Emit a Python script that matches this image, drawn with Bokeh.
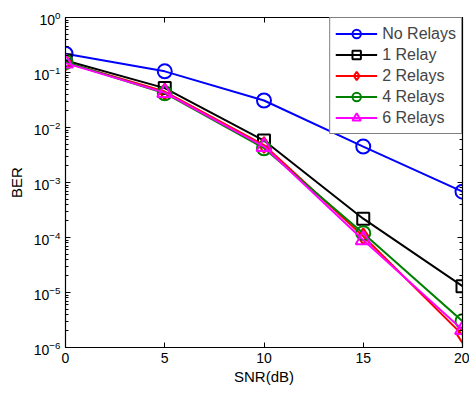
from bokeh.plotting import figure
from bokeh.models import LogAxis, LinearAxis, Legend, LegendItem, Range1d, FixedTicker, CustomJSTickFormatter
from bokeh.embed import file_html
from bokeh.resources import INLINE

snr = [0, 5, 10, 15, 20]
ber_none = [0.22, 0.105, 0.031, 0.0045, 6.8e-4]
ber_1 = [0.165, 0.052, 0.0058, 2.2e-4, 1.3e-5]
ber_2 = [0.152, 0.045, 0.0048, 1.05e-4, 1.7e-6]
ber_4 = [0.155, 0.042, 0.0042, 1.2e-4, 3.0e-6]
ber_6 = [0.148, 0.043, 0.0045, 9.0e-5, 2.1e-6]
labels = ["No Relays", "1 Relay", "2 Relays", "4 Relays", "6 Relays"]
colors = ["#0000ff", "#000000", "#ff0000", "#008000", "#ff00ff"]
markers = ["circle", "square", "diamond", "circle", "triangle"]
sizes = [14, 12, 16, 14, 15]

FONT = "Liberation Sans"

p = figure(width=469, height=395, x_axis_type="linear", y_axis_type="log",
           x_range=Range1d(0, 20), y_range=Range1d(1e-6, 1),
           output_backend="svg", toolbar_location=None,
           min_border_left=65, min_border_right=7, min_border_top=17, min_border_bottom=48)
p.grid.visible = False
p.outline_line_color = "black"
p.outline_line_width = 1.2

bottom_ax = p.below[0]
left_ax = p.left[0]

blank = CustomJSTickFormatter(code="return ''")
right_ax = LogAxis(formatter=blank)
top_ax = LinearAxis(formatter=blank, ticker=FixedTicker(ticks=snr))
p.add_layout(right_ax, "right")
p.add_layout(top_ax, "above")

for ax in (bottom_ax, left_ax, right_ax, top_ax):
    ax.major_tick_in = 5
    ax.major_tick_out = 0
    ax.minor_tick_in = 3
    ax.minor_tick_out = 0
    ax.axis_line_color = "black"
    ax.major_tick_line_color = "black"
    ax.minor_tick_line_color = "black"
    ax.major_label_text_font = FONT
    ax.major_label_text_font_size = "14px"
    ax.major_label_text_color = "black"
    ax.axis_label_text_font = FONT
    ax.axis_label_text_font_size = "15px"
    ax.axis_label_text_font_style = "normal"
    ax.axis_label_text_color = "black"
for ax in (right_ax, top_ax):
    ax.major_label_text_font_size = "0px"
    ax.major_label_standoff = 0

bottom_ax.ticker = FixedTicker(ticks=snr)
bottom_ax.minor_tick_in = 0
top_ax.minor_tick_in = 0
bottom_ax.axis_label = "SNR(dB)"
bottom_ax.axis_label_standoff = 2
left_ax.axis_label = "BER"
left_ax.axis_label_standoff = 6
bottom_ax.major_label_standoff = 5
left_ax.major_label_standoff = 5

items = []
for ys, lab, c, m, s in zip([ber_none, ber_1, ber_2, ber_4, ber_6], labels, colors, markers, sizes):
    r1 = p.line(snr, ys, line_color=c, line_width=2)
    r2 = p.scatter(snr, ys, marker=m, size=s, line_color=c, line_width=2, fill_color=None)
    items.append(LegendItem(label=lab, renderers=[r1, r2]))

legend = Legend(items=items, location="top_right", margin=0,
                border_line_color="black", border_line_width=1.2,
                label_text_font=FONT, label_text_font_size="16px",
                glyph_width=42, glyph_height=21, spacing=0, padding=5,
                label_standoff=5, background_fill_alpha=1)
p.add_layout(legend)

open("out.html", "w").write(file_html(p, INLINE))
